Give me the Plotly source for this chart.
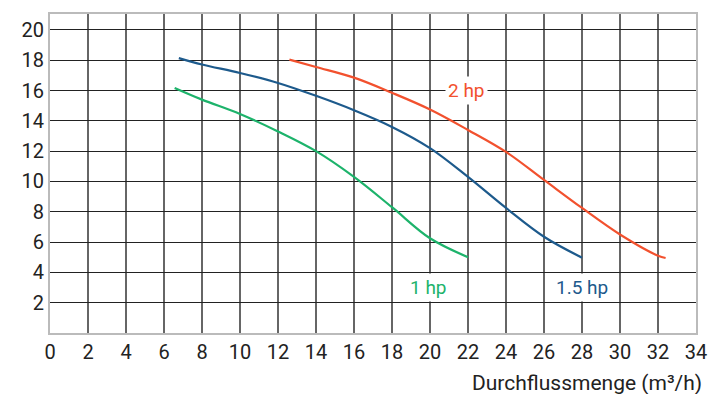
import plotly.graph_objects as go

# Pump curves: flow (m³/h) vs. head (m)
flow_1hp = [6.56, 8, 10, 12, 14, 16, 18, 20, 22]
head_1hp = [16.17, 15.4, 14.45, 13.3, 12.0, 10.3, 8.3, 6.25, 5.0]

flow_15hp = [6.78, 8, 10, 12, 14, 16, 18, 20, 22, 24, 26, 28]
head_15hp = [18.14, 17.72, 17.16, 16.5, 15.65, 14.7, 13.6, 12.2, 10.3, 8.25, 6.35, 4.97]

flow_2hp = [12.6, 14, 16, 18, 20, 22, 24, 26, 28, 30, 32, 32.4]
head_2hp = [18.04, 17.55, 16.85, 15.85, 14.75, 13.4, 11.95, 10.1, 8.25, 6.5, 5.1, 4.95]

x_ticks = list(range(0, 35, 2))
y_ticks = list(range(2, 21, 2))

GREEN = "#1db36b"
BLUE = "#1d5a8c"
RED = "#f2512e"

fig = go.Figure()
for xs, ys, col in [(flow_1hp, head_1hp, GREEN),
                    (flow_15hp, head_15hp, BLUE),
                    (flow_2hp, head_2hp, RED)]:
    fig.add_trace(go.Scatter(x=xs, y=ys, mode="lines",
                             line=dict(color=col, width=2.2, shape="spline", smoothing=1.0),
                             hoverinfo="skip", showlegend=False))

font_main = "Roboto, 'Open Sans', sans-serif"

for x, y, label, col in [(21.9, 16, "2 hp", RED),
                         (19.9, 3.0, "1 hp", GREEN),
                         (28.0, 3.0, "1.5 hp", BLUE)]:
    fig.add_annotation(x=x, y=y, xref="x", yref="y", text=label, showarrow=False,
                       font=dict(family=font_main, size=19, color=col), bgcolor="white",
                       borderpad=2)

fig.add_annotation(x=1.012, y=-0.156, xref="paper", yref="paper", xanchor="right",
                   yanchor="middle", text="Durchflussmenge (m³/h)", showarrow=False,
                   font=dict(family=font_main, size=21, color="#222"))

fig.update_layout(
    width=719, height=394,
    margin=dict(l=50, r=17, t=12, b=61),
    paper_bgcolor="white", plot_bgcolor="white",
    font=dict(family=font_main, size=20, color="#222"),
    xaxis=dict(range=[0, 34], tickvals=x_ticks, ticktext=[str(v) for v in x_ticks],
               showgrid=True, gridcolor="#666", gridwidth=1.5, zeroline=False,
               showline=True, linecolor="#bbb", linewidth=2, mirror=True,
               ticks="", ticklen=0, tickfont=dict(size=20)),
    yaxis=dict(range=[0, 21.05], tickvals=y_ticks, ticktext=[str(v) for v in y_ticks],
               showgrid=True, gridcolor="#222", gridwidth=1.3, zeroline=False,
               showline=True, linecolor="#bbb", linewidth=2, mirror=True,
               ticks="", ticklen=0, tickfont=dict(size=20)),
)

fig.write_html("out.html")
